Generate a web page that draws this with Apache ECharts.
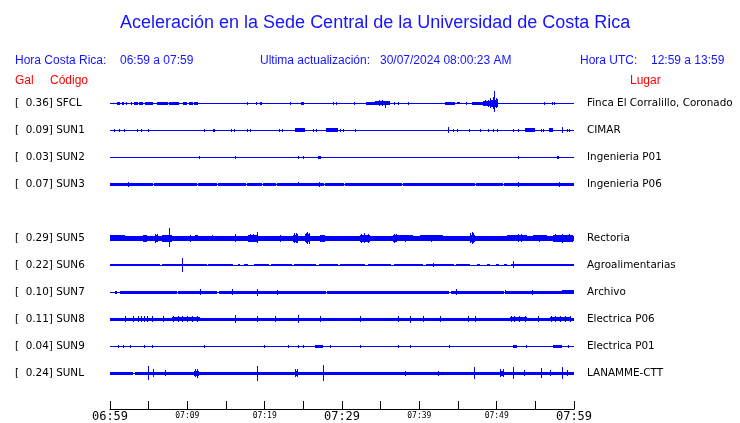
<!DOCTYPE html>
<html><head><meta charset="utf-8">
<script src="https://cdn.jsdelivr.net/npm/echarts/dist/echarts.min.js"></script>
<style>html,body{margin:0;padding:0;background:#fff}#c{width:740px;height:423px}</style>
</head><body><div id="c"></div>
<script>
// ---- data (time in minutes after 06:59, amplitude in trace units; 27 units = spacing between traces) ----
const stationCodes = ['SFCL','SUN1','SUN2','SUN3','SUN5','SUN6','SUN7','SUN8','SUN9','SUNL'];
const peakGal = ['0.36','0.09','0.03','0.07','0.29','0.22','0.10','0.11','0.04','0.24'];
const places = ['Finca El Corralillo, Coronado','CIMAR','Ingenieria P01','Ingenieria P06','Rectoria','Agroalimentarias','Archivo','Electrica P06','Electrica P01','LANAMME-CTT'];
const rowSlots = [0,1,2,3,5,6,7,8,9,10];
const tickLabels = ['06:59','07:09','07:19','07:29','07:39','07:49','07:59'];
const majorLabels = ['06:59','07:29','07:59'];

// bands: [start, end, halfAmplitude]; spikes: [time, up, down]
const sfclBands = [[0.9,1.3,1.5],[1.6,1.8,1.5],[3.1,3.6,1.5],[3.7,4.3,1.5],[4.5,4.9,1.5],[4.9,5.6,1.5],[6.2,7.5,1.5],[7.6,8.9,1.5],[9.4,10.0,1.5],[10.2,10.7,1.5],[10.9,11.4,1.5],[19.4,19.7,1.5],[24.7,25.1,1.5],[33.1,34.3,1.5],[34.3,36.2,2],[43.3,44.6,1.5],[44.9,45.3,1],[46.8,48.2,1.5],[48.2,49.1,2.5],[49.1,50.2,3.5]];
const sfclSpikes = [[2.1,1.5,1.5],[2.7,1.5,1.5],[6.1,1.5,1.5],[17.7,1.5,1.5],[18.9,1.5,1.5],[23.3,1.5,1.5],[28.8,1.5,1.5],[29.2,1.5,1.5],[31.6,1.5,1.5],[34.8,3,3],[35.2,3,3],[35.6,2.5,4.5],[36.7,1.5,1.5],[37.2,1.5,1.5],[38.5,1.5,1.5],[46.0,1.5,1.5],[48.5,3,3],[48.9,3.5,3.5],[49.2,5,5],[49.5,6,6],[49.7,12,9],[49.9,5.5,5],[50.1,4,4],[56.1,1.5,1.5],[57.2,1.5,1.5],[57.4,1.5,1.5]];

const sun1Bands = [[13.3,13.6,1.5],[23.9,25.2,2],[27.9,29.5,2],[53.7,55.0,2],[56.8,57.3,2]];
const sun1Spikes = [[0.5,1.5,1.5],[1.2,1.5,1.5],[1.8,1.5,1.5],[3.5,1.5,1.5],[4.0,1.5,1.5],[4.9,1.5,1.5],[12.2,1.5,1.5],[15.6,1.5,1.5],[16.0,1.5,1.5],[17.7,1.5,1.5],[18.1,1.5,1.5],[21.9,1.5,1.5],[22.2,1.5,1.5],[26.3,1.5,1.5],[26.6,1.5,1.5],[29.7,1.5,1.5],[30.1,1.5,1.5],[31.7,1.5,1.5],[43.7,3,3],[44.4,1.5,1.5],[44.9,1.5,1.5],[46.4,1.5,1.5],[47.8,1.5,1.5],[48.9,1.5,1.5],[49.5,1.5,1.5],[50.0,1.5,1.5],[52.1,1.5,1.5],[52.8,1.5,1.5],[55.7,1.5,1.5],[56.0,1.5,1.5],[58.5,3,3],[59.1,1.5,1.5],[59.4,1.5,1.5]];

const sun2Bands = [[26.9,27.3,1.5],[57.8,58.1,1.5]];
const sun2Spikes = [[11.5,1.5,1.5],[16.2,1.5,1.5],[24.3,1.5,1.5],[25.0,1.5,1.5],[52.8,1.5,1.5]];

const sun3Bands = [[0,5.6,1.5],[5.7,11.3,1.5],[11.4,13.9,1.5],[14.0,17.6,1.5],[17.7,19.7,1.5],[19.8,21.5,1.5],[21.6,27.7,1.5],[27.8,30.3,1.5],[30.4,32.8,1.5],[32.9,34.1,1.5],[34.2,37.8,1.5],[37.9,43.0,1.5],[43.1,47.2,1.5],[47.3,50.8,1.5],[50.9,60,1.5]];
const sun3Spikes = [[2.3,2.5,2.5],[24.3,2,2],[27.0,2.5,2.5],[52.8,2.5,2.5],[58.1,2.5,2.5]];

const sun5Bands = [[0,60,2.5],[0,1.9,3],[4.3,4.8,3.5],[5.8,6.2,3.5],[6.7,8.0,3.5],[11.0,11.4,3],[17.8,19.1,3.5],[23.7,24.3,3.5],[25.2,25.9,4],[27.2,27.8,3.5],[32.3,33.6,3.5],[36.6,37.1,3.5],[37.1,39.2,3],[40.1,43.1,3],[46.6,47.2,3.5],[51.3,53.9,3],[54.7,56.5,3],[57.3,59.9,3.5]];
const sun5Spikes = [[4.5,3.5,3.5],[5.8,4.5,4.5],[6.1,4,4],[7.6,10,9],[10.3,3.5,3.5],[13.2,3,3],[16.2,4,4],[18.1,4,4],[18.5,4,4],[19.0,6,5],[22.0,3.5,3.5],[23.8,5,5],[24.0,5,4.5],[24.2,4.5,5],[25.3,5.5,5],[25.5,6,6],[25.7,5.5,5.5],[32.5,4.5,4.5],[32.9,5,4.5],[33.3,4.5,4.5],[36.7,4.5,4.5],[37.0,4.5,4],[38.2,3.5,3.5],[41.5,3.5,3.5],[46.6,5,5],[46.8,6,6],[47.0,5,5],[52.8,4,4],[53.1,4,4],[55.5,3.5,3.5],[57.6,4,4],[58.4,4.5,4.5],[59.3,4,4]];

const sun6Bands = [[0,6.5,1],[6.7,12.5,1],[12.7,15.9,1],[16.5,16.8,1],[17.3,17.9,1],[18.6,20.5,1],[20.8,23.5,1],[23.8,26.6,1],[27.0,29.5,1],[29.8,33.0,1],[33.3,36.4,1],[36.7,40.5,1],[40.8,44.5,1],[44.8,46.5,1],[47.5,47.9,1],[48.8,49.1,1],[49.9,50.3,1],[50.9,51.3,1],[51.8,60,1.2]];
const sun6Spikes = [[9.3,7,7],[41.8,2,2],[52.1,4,3]];

const sun7Bands = [[0.6,0.9,1.5],[1.3,8.6,1.5],[8.8,13.9,1.5],[14.1,27.9,1.5],[28.1,43.9,1.5],[44.1,51.0,1.5],[51.2,58.5,1.5],[58.5,60,2]];
const sun7Spikes = [[11.6,3,3],[15.8,3,3],[19.0,3.5,3.5],[21.6,2.5,2.5],[44.7,3,3],[51.1,2,2],[54.6,2.5,2.5]];

const sun8Bands = [[0,60,1.5],[8.0,11.6,2.2],[51.7,53.9,2.2],[56.9,59.5,2.2]];
const sun8Spikes = [[1.9,3,3],[3.0,3,3],[3.6,3,3],[4.0,3,3],[4.4,3,3],[4.8,3,3],[5.4,3,3],[6.9,3,3],[8.2,3,3],[8.8,3,3],[9.3,3,3],[10.0,3,3],[10.6,3,3],[11.3,3,3],[16.2,4,4],[19.0,3,3],[21.3,3,3],[24.3,4,4],[27.2,3,3],[32.3,3,3],[37.2,3,3],[38.8,3.5,3.5],[40.5,3,3],[42.7,3,3],[46.3,3,3],[47.2,3,3],[51.8,3,3],[52.3,3,3],[52.9,3,3],[53.6,3,3],[55.3,3,3],[57.0,3,3],[57.6,3,3],[58.2,3,3],[58.9,3,3],[59.5,3,3]];

const sun9Bands = [[26.5,27.5,1.5],[52.1,52.6,1.5],[57.3,58.5,1.5]];
const sun9Spikes = [[1.0,1.5,1.5],[1.7,1.5,1.5],[2.6,1.5,1.5],[4.4,1.5,1.5],[5.4,1.5,1.5],[12.2,1.5,1.5],[19.9,1.5,1.5],[23.0,1.5,1.5],[24.3,1.5,1.5],[25.0,1.5,1.5],[28.4,1.5,1.5],[32.3,1.5,1.5],[37.2,1.5,1.5],[38.8,1.5,1.5],[43.8,1.5,1.5],[53.8,1.5,1.5],[59.2,1.5,1.5]];

const sunlBands = [[0,3.0,1.5],[3.2,60,1.5],[10.9,11.5,2.5],[23.9,24.2,2.5],[50.4,50.8,2.5]];
const sunlSpikes = [[4.9,7,7],[5.6,4,4],[7.1,3,3],[11.0,4,4],[11.3,4.5,4.5],[19.0,7.5,7.5],[23.9,4,4],[24.2,4,4],[27.5,8,8],[38.1,2.5,2.5],[42.4,2.5,2.5],[47.1,6,6],[50.4,4,4],[50.8,4,4],[52.1,6,6],[53.5,3,3],[55.7,5,5],[56.9,3,3],[58.5,6,6],[59.1,3,3]];

const allBands = [sfclBands,sun1Bands,sun2Bands,sun3Bands,sun5Bands,sun6Bands,sun7Bands,sun8Bands,sun9Bands,sunlBands];
const allSpikes = [sfclSpikes,sun1Spikes,sun2Spikes,sun3Spikes,sun5Spikes,sun6Spikes,sun7Spikes,sun8Spikes,sun9Spikes,sunlSpikes];

// ---- build ----
const AMP_UNITS_PER_SLOT = 27;
const TRACE = '#0000ff';
const HEAD = '#1414ff';
const items = [];
rowSlots.forEach((slot, i) => {
  items.push([slot, 0, 60, 0.5, 0.5]);
  allBands[i].forEach(b => items.push([slot, b[0], b[1], b[2], b[2]]));
  allSpikes[i].forEach(s => items.push([slot, s[0], s[0], s[1], s[2]]));
});

function renderItem(params, api) {
  const slot = api.value(0), t0 = api.value(1), t1 = api.value(2), up = api.value(3), dn = api.value(4);
  const a = api.coord([t0, slot]);
  const b = api.coord([t1, slot]);
  const k = api.size([0, 1])[1] / AMP_UNITS_PER_SLOT;
  const x0 = Math.round(a[0]);
  const w = Math.max(1, Math.round(b[0]) - x0);
  const yT = Math.round(a[1] - up * k);
  const yB = Math.round(a[1] + dn * k);
  return { type: 'rect', shape: { x: x0, y: yT, width: w, height: Math.max(1, yB - yT) }, style: { fill: TRACE } };
}

function slotIndex(v) {
  const r = Math.round(v);
  if (Math.abs(v - r) > 1e-6) return -1;
  return rowSlots.indexOf(r);
}

const chart = echarts.init(document.getElementById('c'), null, { renderer: 'canvas' });
const headFont = "'Liberation Sans', Arial, sans-serif";
chart.setOption({
  animation: false,
  backgroundColor: '#ffffff',
  grid: { left: 110, right: 166, top: 76, bottom: 14 },
  xAxis: {
    type: 'value', min: 0, max: 60, interval: 5, position: 'bottom',
    axisLine: { onZero: false, lineStyle: { color: '#000', width: 1 } },
    axisTick: { inside: true, length: 8, lineStyle: { color: '#000', width: 1 } },
    splitLine: { show: false },
    axisLabel: {
      margin: 2,
      formatter: v => {
        if (v % 10 !== 0) return '';
        const lab = tickLabels[v / 10];
        return majorLabels.indexOf(lab) >= 0 ? '{big|' + lab + '}' : '{small|' + lab + '}';
      },
      rich: {
        big: { fontSize: 12, fontFamily: "'DejaVu Sans Mono', monospace", color: '#000' },
        small: { fontSize: 8, fontFamily: "'DejaVu Sans Mono', monospace", color: '#000', padding: [1, 0, 0, 0] }
      }
    }
  },
  yAxis: [
    {
      type: 'value', min: -1, max: 34 / 3, interval: 1, inverse: true, position: 'left',
      axisLine: { show: false, onZero: false }, axisTick: { show: false }, splitLine: { show: false },
      axisLabel: {
        align: 'left', margin: 95, color: '#000', fontSize: 10.4, fontFamily: "'DejaVu Sans', sans-serif",
        formatter: v => { const i = slotIndex(v); return i < 0 ? '' : '[  ' + peakGal[i] + '] ' + stationCodes[i]; }
      }
    },
    {
      type: 'value', min: -1, max: 34 / 3, interval: 1, inverse: true, position: 'right',
      axisLine: { show: false, onZero: false }, axisTick: { show: false }, splitLine: { show: false },
      axisLabel: {
        align: 'left', margin: 13, color: '#000', fontSize: 10.4, fontFamily: "'DejaVu Sans', sans-serif",
        formatter: v => { const i = slotIndex(v); return i < 0 ? '' : places[i]; }
      }
    }
  ],
  series: [{
    type: 'custom', renderItem: renderItem, data: items, clip: false,
    encode: { x: [1, 2], y: 0 }
  }],
  graphic: [
    { type: 'text', x: 120, y: 23, style: { text: 'Aceleración en la Sede Central de la Universidad de Costa Rica', fill: HEAD, font: "18px " + headFont, verticalAlign: 'middle' } },
    { type: 'text', x: 15, y: 61, style: { text: 'Hora Costa Rica:', fill: HEAD, font: "12px " + headFont, verticalAlign: 'middle' } },
    { type: 'text', x: 120, y: 61, style: { text: '06:59 a 07:59', fill: HEAD, font: "12px " + headFont, verticalAlign: 'middle' } },
    { type: 'text', x: 260, y: 61, style: { text: 'Ultima actualización:', fill: HEAD, font: "12px " + headFont, verticalAlign: 'middle' } },
    { type: 'text', x: 380, y: 61, style: { text: '30/07/2024 08:00:23 AM', fill: HEAD, font: "12px " + headFont, verticalAlign: 'middle' } },
    { type: 'text', x: 580, y: 61, style: { text: 'Hora UTC:', fill: HEAD, font: "12px " + headFont, verticalAlign: 'middle' } },
    { type: 'text', x: 651, y: 61, style: { text: '12:59 a 13:59', fill: HEAD, font: "12px " + headFont, verticalAlign: 'middle' } },
    { type: 'text', x: 15, y: 81, style: { text: 'Gal', fill: '#ff0000', font: "12px " + headFont, verticalAlign: 'middle' } },
    { type: 'text', x: 50, y: 81, style: { text: 'Código', fill: '#ff0000', font: "12px " + headFont, verticalAlign: 'middle' } },
    { type: 'text', x: 630, y: 81, style: { text: 'Lugar', fill: '#ff0000', font: "12px " + headFont, verticalAlign: 'middle' } }
  ]
});
</script>
</body></html>
